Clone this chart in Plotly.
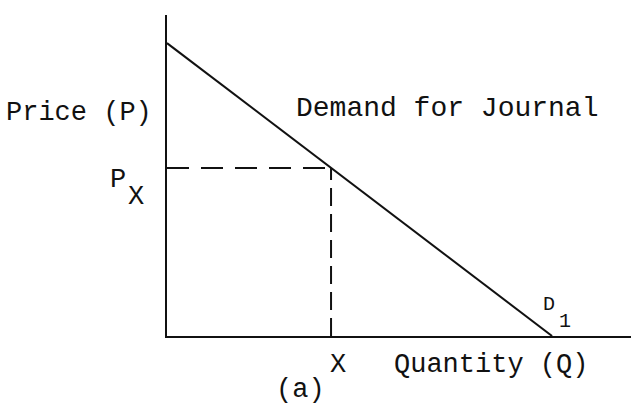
import numpy as np
import plotly.graph_objects as go

# Demand curve (stylised units)
demand_q = [0, 10]
demand_p = [10, 0]
quantity_x = 4.26
x_max = 12.05
y_max = 10.96

price_x = float(np.interp(quantity_x, demand_q, demand_p))

FONT = "Liberation Mono, Courier New, monospace"
INK = "#111111"

fig = go.Figure()

fig.add_trace(go.Scatter(x=demand_q, y=demand_p, mode="lines",
                         line=dict(color=INK, width=2), hoverinfo="skip"))
# horizontal dashed line at P_X
fig.add_trace(go.Scatter(x=[0, quantity_x], y=[price_x, price_x], mode="lines",
                         line=dict(color=INK, width=2, dash="22px,12px"), hoverinfo="skip"))
# vertical dashed line at X
fig.add_trace(go.Scatter(x=[quantity_x, quantity_x], y=[0, price_x], mode="lines",
                         line=dict(color=INK, width=2, dash="18px,8px"), hoverinfo="skip"))

big = dict(family=FONT, size=27, color=INK)
wide = dict(family=FONT, size=28, color=INK)
small = dict(family=FONT, size=20, color=INK)

def note(x, y, text, xanchor, xshift, yshift, font):
    return dict(x=x, y=y, xref="x", yref="y", text=text, xanchor=xanchor, yanchor="middle",
                xshift=xshift, yshift=yshift, font=font, showarrow=False)

ann = [
    note(0, 0, "Price (P)", "right", -13, 223, big),
    note(0, 0, "Demand for Journal", "left", 127, 228, wide),
    note(0, price_x, "P", "right", -39, -12, big),
    note(0, price_x, "X", "left", -41, -29, big),
    note(quantity_x, 0, "X", "center", 7, -29, big),
    note(quantity_x, 0, "Quantity (Q)", "left", 61, -29, big),
    note(quantity_x, 0, "(a)", "center", -31, -54, big),
    note(demand_q[1], 0, "D", "left", -11, 32, small),
    note(demand_q[1], 0, "1", "left", 5, 15, small),
]

fig.update_layout(
    width=631, height=404,
    margin=dict(l=167, r=0, t=15, b=68, autoexpand=False),
    paper_bgcolor="white", plot_bgcolor="white",
    showlegend=False,
    annotations=ann,
    xaxis=dict(range=[0, x_max], showgrid=False, zeroline=False, showticklabels=False,
               ticks="", showline=True, linecolor=INK, linewidth=2, fixedrange=True),
    yaxis=dict(range=[0, y_max], showgrid=False, zeroline=False, showticklabels=False,
               ticks="", showline=True, linecolor=INK, linewidth=2, fixedrange=True),
)

fig.write_html("out.html", config={"displayModeBar": False},
               post_script="document.body.style.margin='0';document.body.style.overflow='hidden';")
